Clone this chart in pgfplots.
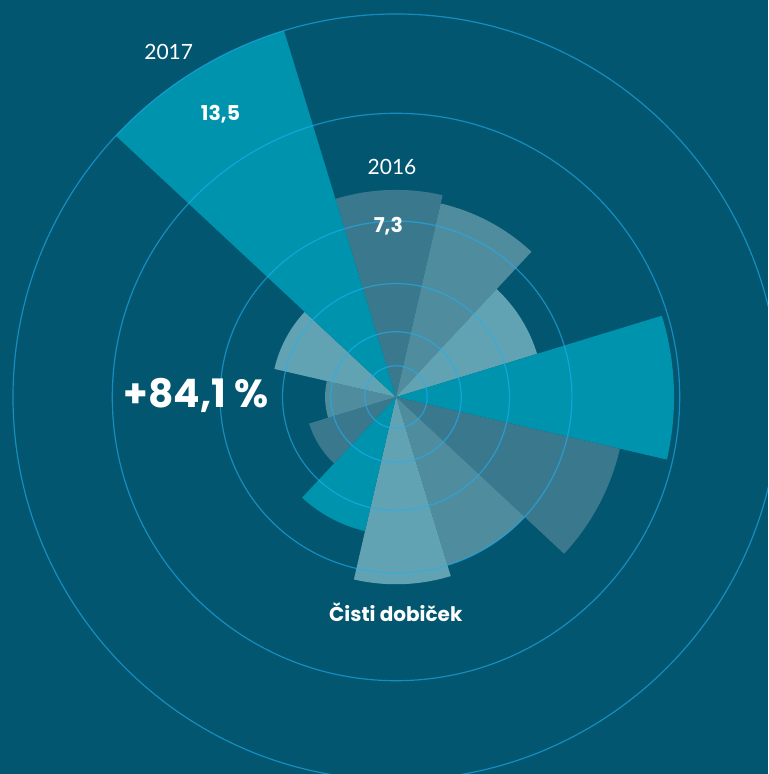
\documentclass[border=0pt]{standalone}
\usepackage{fontspec}
\setmainfont{Lato}
\newfontfamily\heavy{Poppins}
\usepackage{pgfplots}
\pgfplotsset{compat=1.18}
\usepgfplotslibrary{polar}

\definecolor{bg}{RGB}{2,86,112}
\definecolor{ring}{RGB}{34,175,240}
\definecolor{sDark}{RGB}{58,121,141}
\definecolor{sMid}{RGB}{79,140,158}
\definecolor{sLight}{RGB}{98,163,179}
\definecolor{sTeal}{RGB}{0,147,174}

\begin{document}
\begin{tikzpicture}[x=0.5pt,y=0.5pt]
\path[use as bounding box] (0,0) rectangle (768,774);
\clip (0,0) rectangle (768,774);
\fill[bg] (0,0) rectangle (768,774);

\begin{polaraxis}[
    at={(198pt,188.5pt)}, anchor=origin,
    scale only axis, width=383pt, height=383pt,
    ymin=0, ymax=13.5,
    xtick=\empty,
    ytick={1.1,2.3,4.0,6.2,10.0,13.5}, yticklabels={},
    ymajorgrids,
    grid style={ring, line width=0.6pt, opacity=0.62},
    axis line style={draw=none}, major tick length=0pt,
    axis on top, clip=false,
]
% one sector per month, 30 degrees wide, radius = value
\addplot[draw=none, fill=sDark,  domain=77:107,  samples=31] {7.3}  -- (0,0) -- cycle;
\addplot[draw=none, fill=sMid,   domain=47:77,   samples=31] {7.0}  -- (0,0) -- cycle;
\addplot[draw=none, fill=sLight, domain=17:47,   samples=31] {5.2}  -- (0,0) -- cycle;
\addplot[draw=none, fill=sTeal,  domain=-13:17,  samples=31] {9.8}  -- (0,0) -- cycle;
\addplot[draw=none, fill=sDark,  domain=-43:-13, samples=31] {8.1}  -- (0,0) -- cycle;
\addplot[draw=none, fill=sMid,   domain=-73:-43, samples=31] {6.2}  -- (0,0) -- cycle;
\addplot[draw=none, fill=sLight, domain=-103:-73,samples=31] {6.6}  -- (0,0) -- cycle;
\addplot[draw=none, fill=sTeal,  domain=-133:-103,samples=31] {4.85} -- (0,0) -- cycle;
\addplot[draw=none, fill=sDark,  domain=-163:-133,samples=31] {3.2}  -- (0,0) -- cycle;
\addplot[draw=none, fill=sMid,   domain=167:197, samples=31] {2.5}  -- (0,0) -- cycle;
\addplot[draw=none, fill=sLight, domain=137:167, samples=31] {4.4}  -- (0,0) -- cycle;
\addplot[draw=none, fill=sTeal,  domain=107:137, samples=31] {13.5} -- (0,0) -- cycle;
\end{polaraxis}

\begin{scope}[every node/.style={text=white, inner sep=0pt, anchor=base}]
\node[font=\fontsize{10.5pt}{12pt}\selectfont] at (168.7,714) {2017};
\node[font=\heavy\fontsize{10.2pt}{12pt}\selectfont\bfseries] at (220.5,653.3) {13,5};
\node[font=\fontsize{10.5pt}{12pt}\selectfont] at (392,599.7) {2016};
\node[font=\heavy\fontsize{10.2pt}{12pt}\selectfont\bfseries] at (388.3,541) {7,3};
\node[font=\heavy\fontsize{19.6pt}{22pt}\selectfont\bfseries] at (196.2,366.7) {+84,1 \%};
\node[font=\heavy\fontsize{10pt}{12pt}\selectfont\bfseries] at (395.8,152.3) {Čisti dobiček};
\end{scope}
\end{tikzpicture}
\end{document}
